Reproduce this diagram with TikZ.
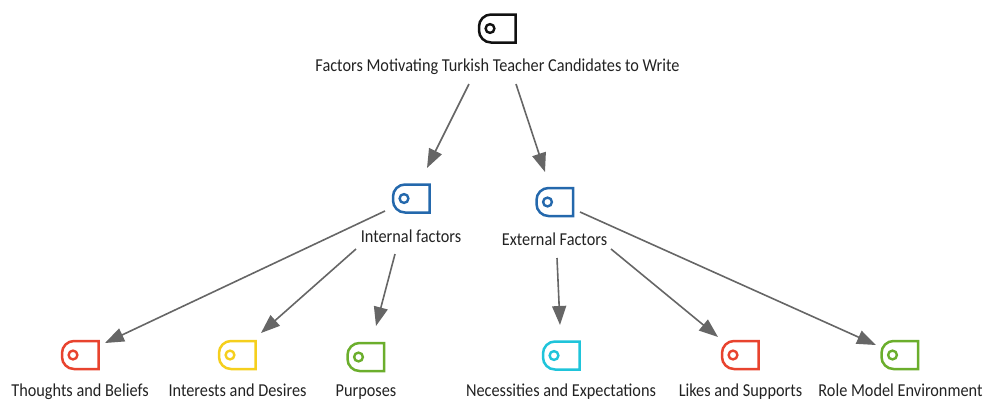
\documentclass[tikz,border=0pt]{standalone}
\usepackage{fontspec}
\setmainfont[FakeStretch=0.895]{Carlito}
\usetikzlibrary{arrows.meta}
\definecolor{tagblack}{HTML}{111111}
\definecolor{tagblue}{HTML}{2468AC}
\definecolor{tagred}{HTML}{E8432E}
\definecolor{tagyellow}{HTML}{F5CF1D}
\definecolor{taggreen}{HTML}{6BAE2C}
\definecolor{tagcyan}{HTML}{1FC4DA}
\definecolor{linkgrey}{HTML}{666666}
\definecolor{labelgrey}{HTML}{222222}
\tikzset{
  x=1pt,y=-1pt,
  tagicon/.pic={
    \draw[line width=2.5pt,line join=miter,pic actions]
      (18,-14) -- (-6.5,-14) arc[start angle=270,end angle=180,radius=12] -- (-18.5,2)
      arc[start angle=180,end angle=90,radius=12] -- (18,14) -- cycle;
    \draw[line width=2.4pt,pic actions] (-7.5,0) circle[radius=4.4];
  },
  caption/.style={font=\fontsize{18.2pt}{20pt}\selectfont,text=labelgrey,inner sep=0pt,anchor=base},
  link/.style={draw=linkgrey,line width=1.6pt,-{Triangle[length=19pt,width=14pt]}}
}
\begin{document}
\begin{tikzpicture}
\useasboundingbox (0,0) rectangle (985,400);
\clip (0,0) rectangle (985,400);
\pic[draw=tagblack] (itop) at (497.5,28.5) {tagicon};
\pic[draw=tagblue] (iint) at (411.5,198.5) {tagicon};
\pic[draw=tagblue] (iext) at (555,202) {tagicon};
\pic[draw=tagred] (ithoughts) at (80.5,355) {tagicon};
\pic[draw=tagyellow] (iinterests) at (237.5,355) {tagicon};
\pic[draw=taggreen] (ipurposes) at (366,357) {tagicon};
\pic[draw=tagcyan] (inecess) at (561.5,355.5) {tagicon};
\pic[draw=tagred] (ilikes) at (740.5,355) {tagicon};
\pic[draw=taggreen] (irole) at (900,355) {tagicon};

\node[caption] (top) at (497.5,71.5) {Factors Motivating Turkish Teacher Candidates to Write};
\node[caption] (int) at (411,242.5) {Internal factors};
\node[caption] (ext) at (554.5,245.5) {External Factors};
\node[caption] (thoughts) at (80,396.4) {Thoughts and Beliefs};
\node[caption] (interests) at (237.5,396.4) {Interests and Desires};
\node[caption] (purposes) at (366,396.4) {Purposes};
\node[caption] (necess) at (561,396.4) {Necessities and Expectations};
\node[caption] (likes) at (740.5,396.4) {Likes and Supports};
\node[caption] (role) at (900.5,396.4) {Role Model Environment};

\coordinate (a1) at (469,84); \coordinate (b1) at (427,168);
\coordinate (a2) at (516,84); \coordinate (b2) at (545,172);
\coordinate (a3) at (385,211); \coordinate (b3) at (105,343);
\coordinate (a4) at (356,249); \coordinate (b4) at (261,333);
\coordinate (a5) at (395,254); \coordinate (b5) at (376,326);
\coordinate (a6) at (557,258); \coordinate (b6) at (560,325);
\coordinate (a7) at (611,249); \coordinate (b7) at (718,337);
\coordinate (a8) at (580,212); \coordinate (b8) at (876,345);
\foreach \i in {1,...,8} \draw[link] (a\i) -- (b\i);
\end{tikzpicture}
\end{document}
